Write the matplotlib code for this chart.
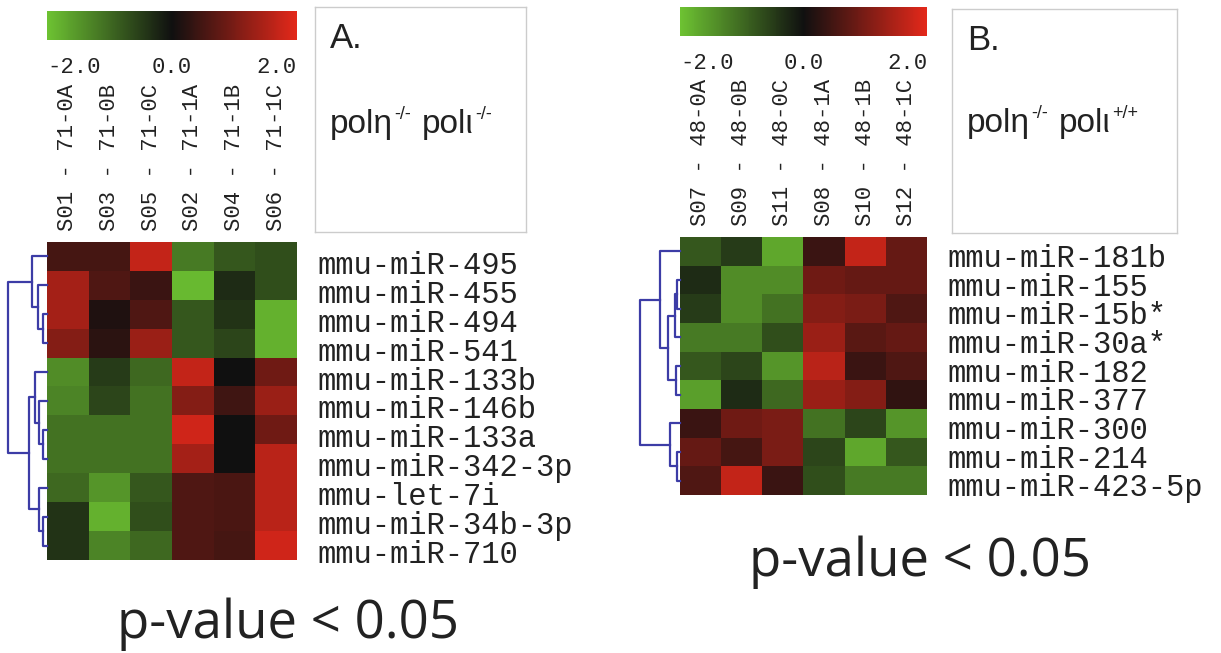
import matplotlib
matplotlib.use("Agg")
import matplotlib.pyplot as plt
import matplotlib.transforms as mtransforms
import numpy as np
from matplotlib.colors import LinearSegmentedColormap
from matplotlib.cm import ScalarMappable
from matplotlib.colors import Normalize

# ---- data: panel A (poleta-/- poliota-/-) ----
cols_a = ["S01 - 71-0A", "S03 - 71-0B", "S05 - 71-0C",
          "S02 - 71-1A", "S04 - 71-1B", "S06 - 71-1C"]
rows_a = ["mmu-miR-495", "mmu-miR-455", "mmu-miR-494", "mmu-miR-541",
          "mmu-miR-133b", "mmu-miR-146b", "mmu-miR-133a", "mmu-miR-342-3p",
          "mmu-let-7i", "mmu-miR-34b-3p", "mmu-miR-710"]
vals_a = [
    [0.5, 0.5, 1.7, -1.2, -0.8, -0.7],
    [1.4, 0.6, 0.4, -1.9, -0.3, -0.7],
    [1.4, 0.15, 0.6, -0.8, -0.4, -1.8],
    [1.1, 0.25, 1.3, -0.8, -0.6, -1.8],
    [-1.4, -0.5, -1.0, 1.7, 0.0, 0.9],
    [-1.3, -0.6, -1.1, 1.1, 0.45, 1.3],
    [-1.1, -1.1, -1.1, 1.8, 0.0, 0.9],
    [-1.1, -1.1, -1.1, 1.4, 0.0, 1.6],
    [-1.0, -1.5, -0.8, 0.6, 0.55, 1.6],
    [-0.4, -1.8, -0.7, 0.6, 0.55, 1.6],
    [-0.4, -1.3, -1.0, 0.6, 0.5, 1.8],
]
# row tree: (child, child, height); children >= n are earlier merges
tree_a = [(2, 3, 4), (1, 11, 9), (0, 12, 15),
          (6, 7, 4), (5, 14, 8), (4, 15, 12),
          (9, 10, 4), (8, 17, 8), (16, 18, 18),
          (13, 19, 39)]

# ---- data: panel B (poleta-/- poliota+/+) ----
cols_b = ["S07 - 48-0A", "S09 - 48-0B", "S11 - 48-0C",
          "S08 - 48-1A", "S10 - 48-1B", "S12 - 48-1C"]
rows_b = ["mmu-miR-181b", "mmu-miR-155", "mmu-miR-15b*", "mmu-miR-30a*",
          "mmu-miR-182", "mmu-miR-377", "mmu-miR-300", "mmu-miR-214",
          "mmu-miR-423-5p"]
vals_b = [
    [-0.8, -0.5, -1.7, 0.4, 1.7, 0.8],
    [-0.3, -1.4, -1.4, 0.9, 0.8, 0.8],
    [-0.5, -1.4, -1.1, 1.1, 1.0, 0.6],
    [-1.2, -1.2, -0.7, 1.3, 0.7, 0.8],
    [-0.8, -0.6, -1.5, 1.6, 0.4, 0.6],
    [-1.6, -0.3, -1.0, 1.3, 1.1, 0.3],
    [0.4, 0.9, 1.0, -1.1, -0.6, -1.5],
    [0.8, 0.5, 1.0, -0.6, -1.7, -0.8],
    [0.6, 1.7, 0.4, -0.7, -1.2, -1.2],
]
tree_b = [(1, 2, 3), (9, 3, 5), (4, 5, 4), (10, 11, 12), (0, 12, 20),
          (7, 8, 3), (6, 14, 10), (13, 15, 40)]

cbar_ticks = [-2, 0, 2]
cbar_labels = ["-2.0", "0.0", "2.0"]

W, H = 1221, 653
cmap = LinearSegmentedColormap.from_list(
    "gbr", ["#6dc232", "#101010", "#e3281a"])
mono = "Liberation Mono"
tree_color = "#3c3ca6"


def px(x0, y0, x1, y1):
    # pixel box -> figure fraction rect
    return [x0 / W, 1 - y1 / H, (x1 - x0) / W, (y1 - y0) / H]


def draw_tree(ax, merges, n):
    pos = {i: float(i) for i in range(n)}
    hgt = {i: 0.0 for i in range(n)}
    for k, (a, b, h) in enumerate(merges):
        ax.plot([hgt[a], h, h, hgt[b]], [pos[a], pos[a], pos[b], pos[b]],
                color=tree_color, lw=1.6, clip_on=False)
        pos[n + k] = (pos[a] + pos[b]) / 2
        hgt[n + k] = h
    ax.set_xlim(max(m[2] for m in merges), 0)
    ax.set_ylim(n - 0.5, -0.5)
    ax.axis("off")


def panel(fig, vals, rows, cols, tree, heat_px, bar_px, box_px, letter,
          sup1, sup2, pv_xy, box_txt_y, row_shift):
    x0, y0, x1, y1 = heat_px
    ax = fig.add_axes(px(*heat_px))
    ax.imshow(np.array(vals), cmap=cmap, vmin=-2, vmax=2, aspect="auto",
              interpolation="nearest")
    for s in ax.spines.values():
        s.set_visible(False)
    ax.xaxis.tick_top()
    ax.set_xticks(range(len(cols)))
    ax.set_xticklabels(cols, rotation=90, fontsize=16, family=mono,
                       color="#222222")
    ax.yaxis.tick_right()
    ax.set_yticks(range(len(rows)))
    ax.set_yticklabels(rows, fontsize=22, family=mono, color="#222222")
    ax.tick_params(axis="x", length=0, pad=8)
    ax.tick_params(axis="y", length=0, pad=15)
    # row labels sit a few pixels below the cell centres in the original
    shift = mtransforms.ScaledTranslation(0, -row_shift / 100,
                                          fig.dpi_scale_trans)
    for lab in ax.get_yticklabels():
        lab.set_transform(lab.get_transform() + shift)

    # row dendrogram
    maxh = max(m[2] for m in tree)
    axt = fig.add_axes(px(x0 - maxh, y0, x0, y1))
    draw_tree(axt, tree, len(rows))

    # colour key
    cax = fig.add_axes(px(*bar_px))
    cb = fig.colorbar(ScalarMappable(Normalize(-2, 2), cmap), cax=cax,
                      orientation="horizontal")
    cb.outline.set_visible(False)
    cb.set_ticks(cbar_ticks)
    cb.set_ticklabels(cbar_labels)
    cax.tick_params(length=0, pad=12, labelsize=16)
    for lab, ha in zip(cax.get_xticklabels(), ["left", "center", "right"]):
        lab.set_ha(ha)
        lab.set_family(mono)
        lab.set_color("#222222")

    # label box
    axb = fig.add_axes(px(*box_px))
    axb.set_xticks([])
    axb.set_yticks([])
    for s in axb.spines.values():
        s.set_color("#cccccc")
        s.set_linewidth(1.0)
    bw = box_px[2] - box_px[0]
    tx = 15 / bw
    axb.text(tx, 0.86, letter, fontsize=25, family="Liberation Sans",
             color="#222222", va="center", ha="left", transform=axb.transAxes)
    t1 = axb.text(tx, box_txt_y, "pol\u03b7", fontsize=24,
                  family="Liberation Sans", color="#222222",
                  va="baseline", ha="left", transform=axb.transAxes)
    s1 = axb.annotate(sup1, xy=(1, 0.68), xycoords=t1, xytext=(1, 0),
                      textcoords="offset points", fontsize=13,
                      family="Liberation Sans", color="#222222",
                      va="baseline", ha="left")
    t2 = axb.annotate("pol\u03b9", xy=(1, 0), xycoords=(s1, t1),
                      xytext=(8, 0), textcoords="offset points", fontsize=24,
                      family="Liberation Sans", color="#222222",
                      va="bottom", ha="left")
    axb.annotate(sup2, xy=(1, 0.68), xycoords=t2, xytext=(1, 0),
                 textcoords="offset points", fontsize=13,
                 family="Liberation Sans", color="#222222",
                 va="baseline", ha="left")

    fig.text(pv_xy[0] / W, 1 - pv_xy[1] / H, "p-value < 0.05", fontsize=38,
             family="Open Sans", color="#222222", ha="center", va="baseline")


fig = plt.figure(figsize=(12.21, 6.53), dpi=100)
fig.patch.set_facecolor("white")

panel(fig, vals_a, rows_a, cols_a, tree_a,
      heat_px=(47, 242, 297, 560), bar_px=(47, 11, 297, 40),
      box_px=(315, 7, 526, 232), letter="A.", sup1="-/-", sup2="-/-",
      pv_xy=(288, 638), box_txt_y=0.44, row_shift=6)
panel(fig, vals_b, rows_b, cols_b, tree_b,
      heat_px=(680, 237, 927, 495), bar_px=(680, 7, 927, 36),
      box_px=(952, 9, 1177, 233), letter="B.", sup1="-/-", sup2="+/+",
      pv_xy=(920, 576), box_txt_y=0.45, row_shift=4)

fig.savefig("out.png", dpi=100)
